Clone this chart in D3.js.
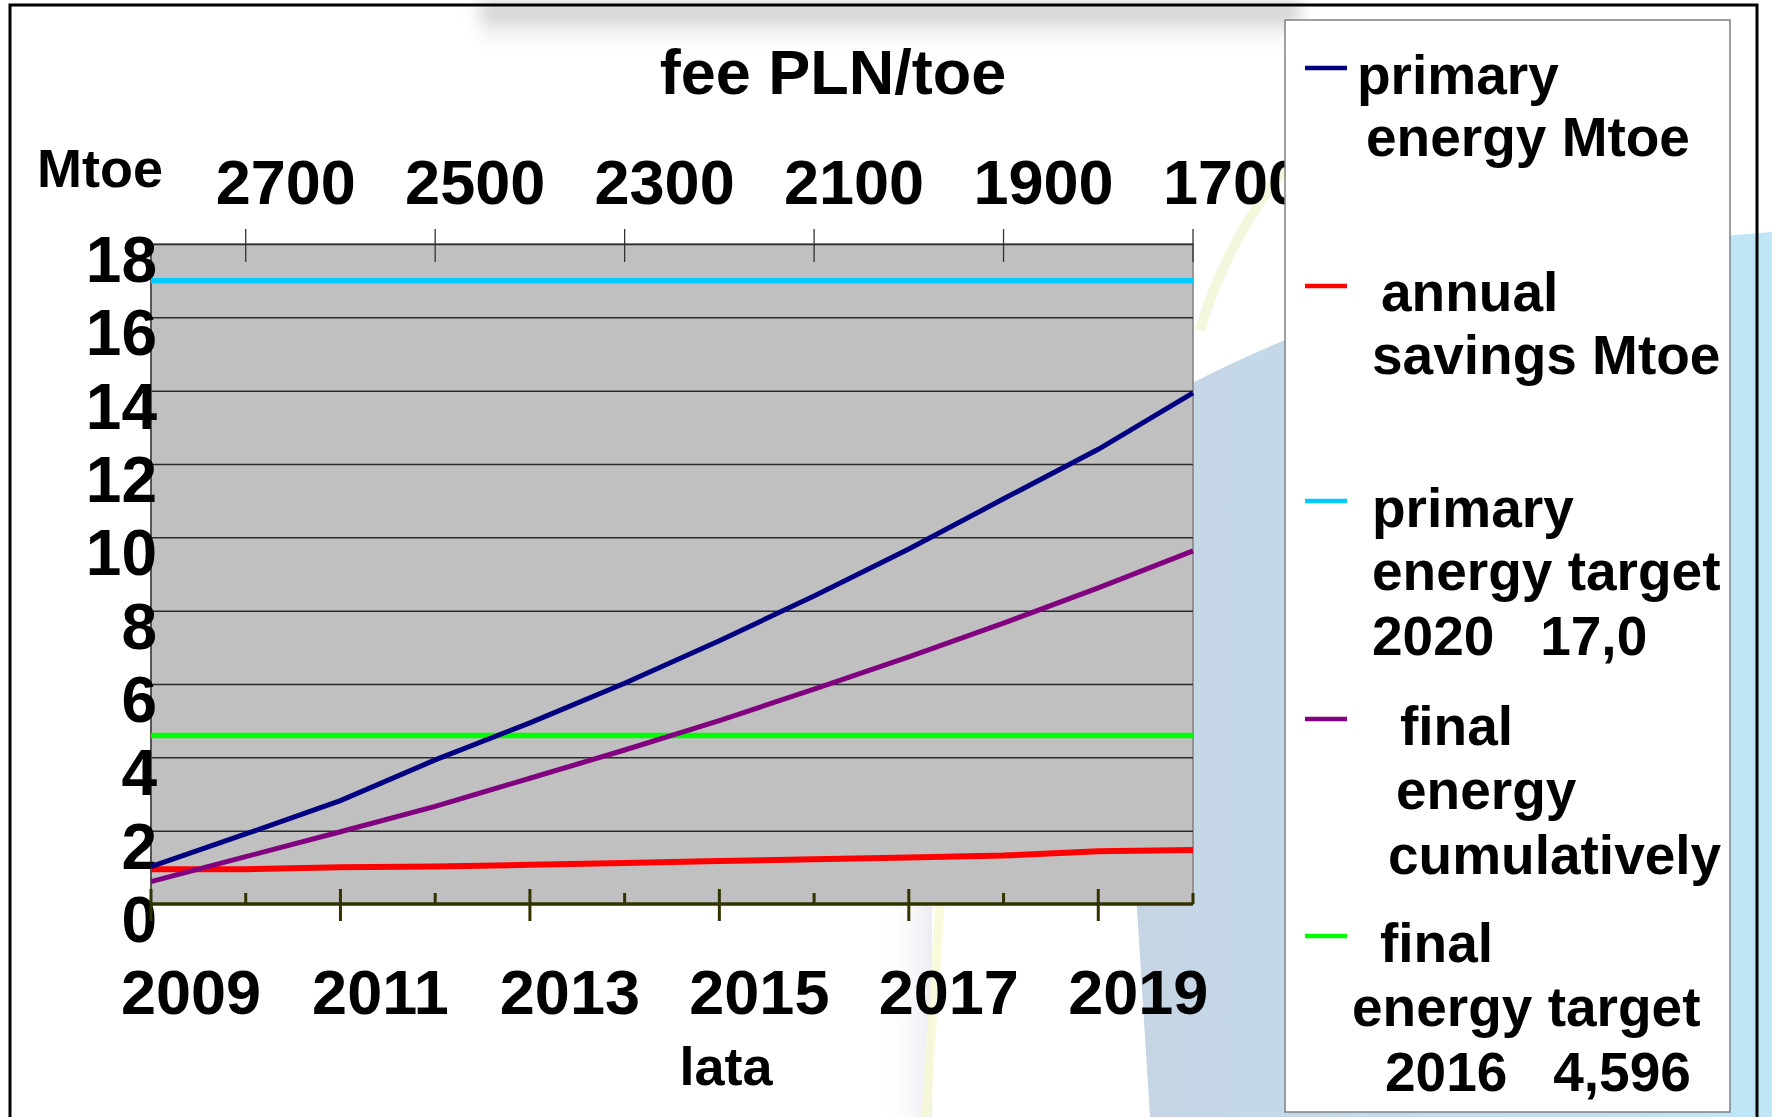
<!DOCTYPE html>
<html>
<head>
<meta charset="utf-8">
<script src="https://cdn.jsdelivr.net/npm/d3@7"></script>
<style>
body { margin: 0; background: #fff; }
text { font-family: 'Liberation Sans', Arial, sans-serif; font-weight: bold; fill: #000; }
</style>
</head>
<body>
<div id="svg"></div>
<script>
let years = [2009, 2010, 2011, 2012, 2013, 2014, 2015, 2016, 2017, 2018, 2019, 2020]
let yearLabels = [2009, 2011, 2013, 2015, 2017, 2019]
let feeTicks = [2700, 2500, 2300, 2100, 1900, 1700]
let yTicks = [0, 2, 4, 6, 8, 10, 12, 14, 16, 18]

let primaryEnergy = [1.02, 1.91, 2.82, 3.93, 4.94, 6.02, 7.18, 8.4, 9.68, 11.05, 12.4, 13.94]
let annualSavings = [0.95, 0.95, 1.0, 1.02, 1.07, 1.12, 1.17, 1.22, 1.27, 1.32, 1.44, 1.47]
let finalCumulative = [0.61, 1.29, 1.97, 2.66, 3.43, 4.2, 5.0, 5.86, 6.74, 7.66, 8.62, 9.63]
let primaryTarget = [17.0, 17.0]
let finalTarget = [4.596, 4.596]

let legendItems = [
	{color: '#000080', lines: ['primary', 'energy Mtoe'], y: 68},
	{color: '#ff0000', lines: ['annual', 'savings Mtoe'], y: 286},
	{color: '#00ccff', lines: ['primary', 'energy target', '2020   17,0'], y: 501},
	{color: '#800080', lines: ['final', 'energy', 'cumulatively'], y: 719},
	{color: '#00ff00', lines: ['final', 'energy target', '2016   4,596'], y: 936}
]

let W = 1772, H = 1117
let margin = {top: 244, left: 151}
let width = 1042, height = 660

let svg = d3.select('#svg')
.append('svg')
.attr('width', W)
.attr('height', H)

let defs = svg.append('defs')
let bg = defs.append('linearGradient').attr('id', 'bgblue')
bg.append('stop').attr('offset', '0%').attr('stop-color', '#c6d4e3')
bg.append('stop').attr('offset', '100%').attr('stop-color', '#bee6f7')
let sh = defs.append('linearGradient').attr('id', 'shadow').attr('x1', 0).attr('x2', 0).attr('y1', 0).attr('y2', 1)
sh.append('stop').attr('offset', '0%').attr('stop-color', '#b8b8b8')
sh.append('stop').attr('offset', '100%').attr('stop-color', '#ffffff').attr('stop-opacity', 0)
let fade = defs.append('linearGradient').attr('id', 'fade')
fade.append('stop').attr('offset', '0%').attr('stop-color', '#ffffff').attr('stop-opacity', 0)
fade.append('stop').attr('offset', '100%').attr('stop-color', '#ecebf3')
defs.append('filter').attr('id', 'blur').append('feGaussianBlur').attr('stdDeviation', 8)

// slide background
svg.append('path')
.attr('d', 'M1150,1117 L1124,700 L1110,430 Q1380,260 1772,232 L1772,1117 Z')
.style('fill', 'url(#bgblue)')
svg.append('rect')
.attr('x', 880).attr('y', 904).attr('width', 52).attr('height', 213)
.style('fill', 'url(#fade)')
svg.append('path')
.attr('d', 'M1200,330 Q1230,230 1300,150')
.style('fill', 'none').style('stroke', '#eef3cf').style('stroke-width', 10).style('opacity', 0.7)
svg.append('path')
.attr('d', 'M940,904 L926,1117')
.style('fill', 'none').style('stroke', '#f8f7d2').style('stroke-width', 9).style('opacity', 0.8)
svg.append('rect')
.attr('x', 480).attr('y', 4).attr('width', 820).attr('height', 48)
.style('fill', 'url(#shadow)').attr('filter', 'url(#blur)')
svg.append('rect')
.attr('x', 10).attr('y', 5).attr('width', 1747).attr('height', 1125)
.style('fill', 'none').style('stroke', '#000').style('stroke-width', 3)

let x = d3.scaleLinear()
.domain([2009, 2020])
.range([margin.left, margin.left + width])

let fee = d3.scaleLinear()
.domain([2800, 1700])
.range([margin.left, margin.left + width])

let y = d3.scaleLinear()
.domain([0, 18])
.range([margin.top + height, margin.top])

svg.append('rect')
.attr('x', margin.left).attr('y', margin.top)
.attr('width', width).attr('height', height)
.style('fill', '#c0c0c0')
.style('stroke', '#808080')
.style('stroke-width', 1.5)

// gridlines
svg.append('g')
.attr('class', 'grid')
.attr('transform', `translate(${margin.left}, 0)`)
.call(d3.axisLeft(y).tickValues(yTicks.slice(1)).tickSize(-width).tickFormat(''))
.call(g => g.select('.domain').remove())
.call(g => g.selectAll('line').style('stroke', '#2a2a2a').style('stroke-width', 1.5))

svg.append('line')
.attr('x1', margin.left).attr('x2', margin.left)
.attr('y1', margin.top).attr('y2', margin.top + height)
.style('stroke', '#404040').style('stroke-width', 1.5)

// y labels
svg.selectAll('.ylab')
.data(yTicks)
.join('text')
.attr('class', 'ylab')
.attr('x', 157)
.attr('y', d => y(d) + 38)
.attr('text-anchor', 'end')
.style('font-size', '64px')
.text(d => d)

// top fee axis
svg.selectAll('.feetick')
.data(feeTicks)
.join('line')
.attr('class', 'feetick')
.attr('x1', d => fee(d)).attr('x2', d => fee(d))
.attr('y1', 229).attr('y2', 262)
.style('stroke', '#333').style('stroke-width', 1.3)

svg.selectAll('.feelab')
.data(feeTicks)
.join('text')
.attr('class', 'feelab')
.attr('x', d => fee(d) + 40)
.attr('y', 204)
.attr('text-anchor', 'middle')
.style('font-size', '63px')
.text(d => d)

// series
let line = d3.line()
.x((d, i) => x(years[i]))
.y(d => y(d))

let flat = d3.line()
.x((d, i) => x(i === 0 ? years[0] : years[years.length - 1]))
.y(d => y(d))

svg.append('path').datum(primaryTarget).attr('d', flat)
.style('fill', 'none').style('stroke', '#00ccff').style('stroke-width', 5.5)
svg.append('path').datum(finalTarget).attr('d', flat)
.style('fill', 'none').style('stroke', '#00ff00').style('stroke-width', 5.5)
svg.append('path').datum(annualSavings).attr('d', line)
.style('fill', 'none').style('stroke', '#ff0000').style('stroke-width', 6)
svg.append('path').datum(finalCumulative).attr('d', line)
.style('fill', 'none').style('stroke', '#800080').style('stroke-width', 5)
svg.append('path').datum(primaryEnergy).attr('d', line)
.style('fill', 'none').style('stroke', '#000080').style('stroke-width', 5)

// bottom year axis
let axisCol = '#333300'
svg.append('line')
.attr('x1', margin.left).attr('x2', margin.left + width)
.attr('y1', y(0)).attr('y2', y(0))
.style('stroke', axisCol).style('stroke-width', 3.5)

svg.selectAll('.xtick')
.data(years)
.join('line')
.attr('class', 'xtick')
.attr('x1', d => x(d)).attr('x2', d => x(d))
.attr('y1', d => yearLabels.includes(d) ? y(0) - 15 : y(0) - 11)
.attr('y2', d => yearLabels.includes(d) ? y(0) + 17 : y(0))
.style('stroke', axisCol).style('stroke-width', 3)

svg.selectAll('.xlab')
.data(yearLabels)
.join('text')
.attr('class', 'xlab')
.attr('x', d => x(d) + 40)
.attr('y', 1014)
.attr('text-anchor', 'middle')
.style('font-size', '63px')
.text(d => d)

// titles
svg.append('text')
.attr('x', 833).attr('y', 94)
.attr('text-anchor', 'middle')
.style('font-size', '63px')
.text('fee PLN/toe')

svg.append('text')
.attr('x', 37).attr('y', 187)
.style('font-size', '54px')
.text('Mtoe')

svg.append('text')
.attr('x', 726).attr('y', 1085)
.attr('text-anchor', 'middle')
.style('font-size', '54px')
.text('lata')

// legend
svg.append('rect')
.attr('x', 1285).attr('y', 20)
.attr('width', 445).attr('height', 1092)
.style('fill', '#fff')
.style('stroke', '#808080')
.style('stroke-width', 1.5)

let textX = [[1357, 1366], [1381, 1372], [1372, 1372, 1372], [1400, 1396, 1388], [1380, 1352, 1385]]
let textY = [[94, 156], [311, 374], [527, 590, 655], [745, 809, 874], [962, 1026, 1091]]

let items = svg.selectAll('.leg')
.data(legendItems)
.join('g')
.attr('class', 'leg')

items.append('line')
.attr('x1', 1305).attr('x2', 1347)
.attr('y1', d => d.y).attr('y2', d => d.y)
.style('stroke', d => d.color)
.style('stroke-width', 4.5)

items.each(function(d, i) {
	d3.select(this).selectAll('text')
	.data(d.lines)
	.join('text')
	.attr('x', (t, j) => textX[i][j])
	.attr('y', (t, j) => textY[i][j])
	.style('font-size', '55px')
	.style('white-space', 'pre')
	.text(t => t)
})
</script>
</body>
</html>
